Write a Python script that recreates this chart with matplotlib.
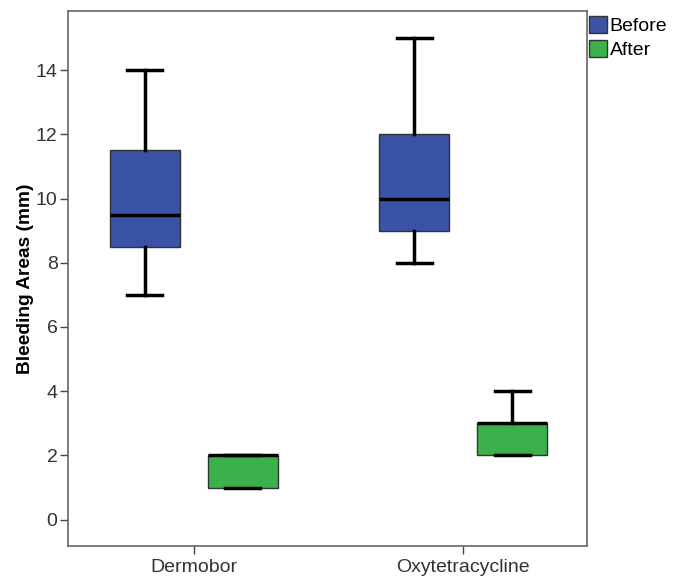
import matplotlib
matplotlib.use("Agg")
import matplotlib.pyplot as plt
from matplotlib.patches import Patch

plt.rcParams['font.family'] = ['Liberation Sans', 'DejaVu Sans']

categories = ["Dermobor", "Oxytetracycline"]
series = ["Before", "After"]
# per category: [whislo, q1, med, q3, whishi]
before_stats = [[7, 8.5, 9.5, 11.5, 14], [8, 9, 10, 12, 15]]
after_stats = [[1, 1, 2, 2, 2], [2, 2, 3, 3, 4]]
colors = ["#3A53A4", "#3BB04B"]
yticks = [0, 2, 4, 6, 8, 10, 12, 14]

fig = plt.figure(figsize=(6.83, 5.79), dpi=100)
ax = fig.add_axes([0.0996, 0.057, 0.760, 0.924])

def mk(s):
    return dict(whislo=s[0], q1=s[1], med=s[2], q3=s[3], whishi=s[4], fliers=[])

offset = 0.182
width = 0.26
for k, (stats, col) in enumerate(zip([before_stats, after_stats], colors)):
    pos = [i + (-offset if k == 0 else offset) for i in range(len(categories))]
    ax.bxp([mk(s) for s in stats], positions=pos, widths=width, patch_artist=True,
           showfliers=False,
           boxprops=dict(facecolor=col, edgecolor="#333333", linewidth=1.0),
           medianprops=dict(color="black", linewidth=2.5),
           whiskerprops=dict(color="black", linewidth=2.5),
           capprops=dict(color="black", linewidth=2.5),
           capwidths=width / 2)

ax.set_xlim(-0.468, 1.461)
ax.set_ylim(-0.82, 15.84)
ax.set_yticks(yticks)
ax.set_yticklabels([str(t) for t in yticks])
ax.set_xticks(range(len(categories)))
ax.set_xticklabels(categories)
ax.tick_params(axis='both', direction='out', length=6, width=1, color="#444444",
               labelcolor="#333333", labelsize=14, pad=1.5)
ax.tick_params(axis='x', pad=3.5)
for sp in ax.spines.values():
    sp.set_color("#666666")
    sp.set_linewidth(1.2)
ax.set_ylabel("Bleeding Areas (mm)", fontsize=13.8, fontweight="bold", color="black", labelpad=1)

handles = [Patch(facecolor=c, edgecolor="#333333", label=s) for c, s in zip(colors, series)]
fig.legend(handles=handles, loc="upper left", bbox_to_anchor=(0.863, 0.973),
           frameon=False, fontsize=14, handlelength=0.9, handleheight=1.0,
           handletextpad=0.15, labelspacing=0.25, borderpad=0.0, borderaxespad=0)

fig.savefig("out.png", dpi=100)
